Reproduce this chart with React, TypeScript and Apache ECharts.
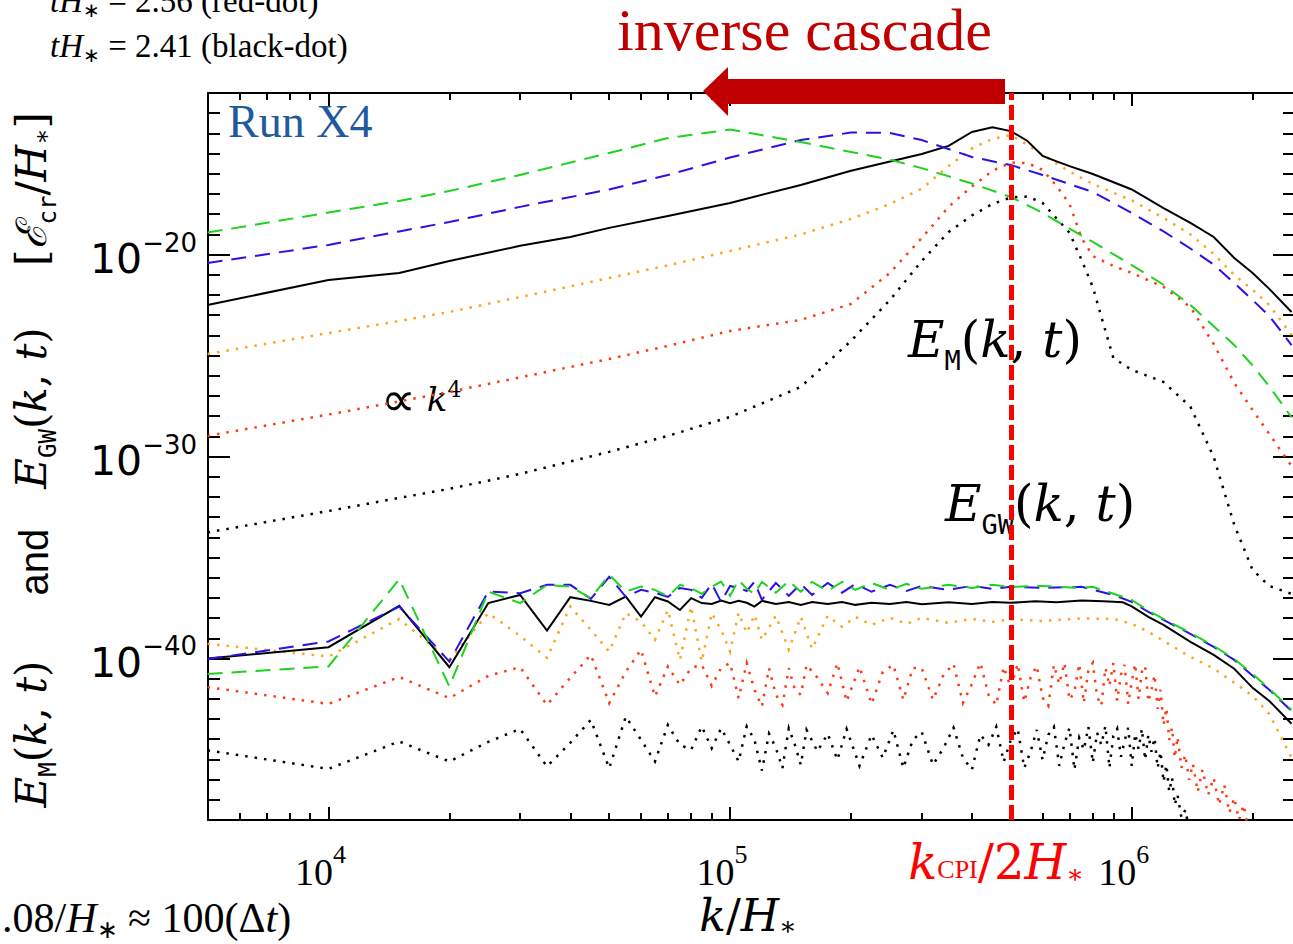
import React, { useEffect, useRef } from "react";
import * as echarts from "echarts";

// ---------------- axis extents & ticks ----------------
const kAxisRange = [5.012e3, 2.55e6];
const eAxisRange = [1e-48, 1e-12];
const xMajorTicks = [1e4, 1e5, 1e6];
const xMinorTicks = [6e3, 7e3, 8e3, 9e3, 2e4, 3e4, 4e4, 5e4, 6e4, 7e4, 8e4, 9e4, 2e5, 3e5, 4e5, 5e5, 6e5, 7e5, 8e5, 9e5, 2e6];
const yMajorTicks = [1e-40, 1e-30, 1e-20];
const yMinorTicks = [
  1e-47, 1e-46, 1e-45, 1e-44, 1e-43, 1e-42, 1e-41,
  1e-39, 1e-38, 1e-37, 1e-36, 1e-35, 1e-34, 1e-33, 1e-32, 1e-31,
  1e-29, 1e-28, 1e-27, 1e-26, 1e-25, 1e-24, 1e-23, 1e-22, 1e-21,
  1e-19, 1e-18, 1e-17, 1e-16, 1e-15, 1e-14, 1e-13,
];
const kCpiHalf = 5.0e5;

// ---------------- E_M(k,t) spectra (upper group) ----------------
const emBlackSolid = [
  [5e3, 3.2e-23], [1e4, 5.5e-22], [1.5e4, 1.23e-21], [2e4, 4.8e-21], [3e4, 2.7e-20], [4e4, 7.4e-20],
  [5e4, 2.1e-19], [7e4, 8.1e-19], [1e5, 3.6e-18], [1.5e5, 2.8e-17], [2e5, 1.4e-16], [3e5, 9.6e-16],
  [3.5e5, 2.4e-15], [4e5, 1.17e-14], [4.5e5, 2.0e-14], [5e5, 1.3e-14], [5.5e5, 4.2e-15], [6e5, 7.6e-16],
  [6.5e5, 4.1e-16], [7e5, 2.4e-16], [8e5, 9.8e-17], [1e6, 1.67e-17], [1.2e6, 2.0e-18], [1.4e6, 3.7e-19],
  [1.6e6, 7.4e-20], [1.8e6, 6.8e-21], [2e6, 1.23e-21], [2.2e6, 2.0e-22], [2.5e6, 1.44e-23],
];
const emGreen = [
  [5e3, 1.23e-19], [1e4, 1.2e-18], [1.5e4, 4.5e-18], [2e4, 1.4e-17], [3e4, 8.7e-17], [5e4, 1.07e-15],
  [7e4, 5.9e-15], [1e5, 1.56e-14], [1.5e5, 3.7e-15], [2e5, 1.2e-15], [2.5e5, 5.0e-16], [3e5, 1.9e-16],
  [4e5, 3.3e-17], [5e5, 7.1e-18], [6e5, 1.15e-18], [8e5, 4.2e-20], [1e6, 3.0e-21], [1.2e6, 3.2e-22],
  [1.4e6, 3.2e-23], [1.6e6, 2.8e-24], [1.8e6, 3.3e-25], [2e6, 3.2e-26], [2.2e6, 3.0e-27], [2.5e6, 8.7e-29],
];
const emBlue = [
  [5e3, 3.8e-21], [1e4, 3.0e-20], [1.5e4, 1.4e-19], [2e4, 4.1e-19], [3e4, 2.3e-18], [5e4, 1.67e-17],
  [7e4, 8.7e-17], [1e5, 6.4e-16], [1.5e5, 4.7e-15], [2e5, 1.1e-14], [2.5e5, 1.05e-14], [3e5, 4.7e-15],
  [4e5, 6.8e-16], [5e5, 2.7e-16], [6e5, 8.7e-17], [8e5, 1.26e-17], [1e6, 1.15e-18], [1.2e6, 1.4e-19],
  [1.4e6, 2.0e-20], [1.6e6, 3.2e-21], [1.8e6, 3.9e-22], [2e6, 5.6e-23], [2.2e6, 9.1e-24], [2.5e6, 3.3e-25],
];
const emOrange = [
  [5e3, 1.2e-25], [1e4, 1.3e-24], [1.5e4, 5.1e-24], [2e4, 1.44e-23], [3e4, 7.9e-23], [5e4, 6.9e-22],
  [7e4, 2.9e-21], [1e5, 1.5e-20], [1.5e5, 1.0e-19], [2e5, 5.8e-19], [2.5e5, 3.2e-18], [3e5, 1.8e-17],
  [3.5e5, 2.4e-16], [4e5, 1.8e-15], [4.5e5, 5.3e-15], [5e5, 8.3e-15], [5.5e5, 2.7e-15], [6e5, 8.5e-16],
  [7e5, 1.3e-16], [8e5, 3.1e-17], [1e6, 4.8e-18], [1.2e6, 6.5e-19], [1.4e6, 1.0e-19], [1.6e6, 1.07e-20],
  [1.8e6, 9.8e-22], [2e6, 1.8e-22], [2.2e6, 3.2e-23], [2.5e6, 1.05e-24],
];
const emRed = [
  [5e3, 1.05e-29], [1e4, 1.2e-28], [1.5e4, 5.3e-28], [2e4, 1.58e-27], [3e4, 8.3e-27], [5e4, 6.8e-26],
  [7e4, 3.0e-25], [1e5, 1.65e-24], [1.5e5, 5.8e-24], [2e5, 3.6e-23], [2.5e5, 1.23e-21], [3e5, 6.6e-20],
  [3.5e5, 2.3e-18], [4e5, 2.35e-17], [4.5e5, 1.4e-16], [5e5, 3.6e-16], [5.5e5, 3.4e-16], [6e5, 1.54e-16],
  [6.5e5, 2.5e-17], [7e5, 3.2e-18], [7.5e5, 6.6e-20], [8e5, 8.5e-21], [9e5, 2.7e-21], [1e6, 1.23e-21],
  [1.2e6, 2.5e-22], [1.4e6, 2.5e-23], [1.6e6, 3.7e-25], [1.8e6, 4.4e-27], [2e6, 2.0e-28], [2.2e6, 1.3e-29],
  [2.5e6, 3.4e-31],
];
const emBlackDot = [
  [5e3, 1.74e-34], [1e4, 2.0e-33], [1.5e4, 8.9e-33], [2e4, 2.5e-32], [3e4, 1.38e-31], [5e4, 1.7e-30],
  [7e4, 1.05e-29], [1e5, 9.1e-29], [1.5e5, 2.8e-27], [2e5, 5.3e-25], [2.5e5, 5.6e-23], [3e5, 4.8e-21],
  [3.5e5, 1.3e-19], [4e5, 8.6e-19], [4.5e5, 3.2e-18], [5e5, 6.7e-18], [5.5e5, 7.5e-18], [6e5, 3.6e-18],
  [7e5, 1.2e-19], [7.5e5, 5.4e-21], [8e5, 2.5e-22], [8.5e5, 3.7e-24], [9e5, 7.6e-26], [1e6, 1.95e-26],
  [1.2e6, 4.9e-27], [1.4e6, 2.9e-28], [1.6e6, 9.5e-31], [1.8e6, 4.1e-34], [2e6, 2.4e-36], [2.2e6, 3.9e-37],
  [2.5e6, 1.58e-37],
];

// ---------------- E_GW(k,t) spectra (lower group) ----------------
const gwBlackSolid = [
  [5e3, 1.0e-40], [1e4, 3.6e-40], [1.5e4, 4.0e-38], [2e4, 3.7e-41], [2.5e4, 5.5e-38], [3e4, 1.4e-37],
  [3.5e4, 2.4e-39], [4e4, 1.08e-37], [4.5e4, 7.1e-38], [5e4, 4.5e-38], [5.5e4, 1.16e-37], [6e4, 1.19e-38],
  [6.5e4, 1.08e-37], [7e4, 6.6e-38], [7.5e4, 2.5e-38], [8e4, 9.7e-38], [8.5e4, 5.5e-38], [9e4, 5.0e-38],
  [9.5e4, 7.3e-38], [1e5, 5.5e-38], [1.05e5, 7.1e-38], [1.1e5, 5.7e-38], [1.15e5, 3.7e-38], [1.2e5, 7.1e-38],
  [1.3e5, 5.0e-38], [1.4e5, 6.3e-38], [1.5e5, 4.5e-38], [1.6e5, 6.3e-38], [1.75e5, 5.0e-38], [1.9e5, 6.3e-38],
  [2.05e5, 4.5e-38], [2.25e5, 5.7e-38], [2.5e5, 5.0e-38], [2.75e5, 6.3e-38], [3e5, 4.8e-38], [3.5e5, 6.0e-38],
  [4e5, 5.0e-38], [4.5e5, 6.3e-38], [5e5, 5.7e-38], [5.75e5, 6.7e-38], [6.5e5, 6.0e-38], [7.5e5, 7.5e-38],
  [8.5e5, 6.7e-38], [9.5e5, 6.0e-38], [1e6, 3.8e-38], [1.1e6, 1.15e-38], [1.2e6, 4.6e-39], [1.4e6, 6.6e-40],
  [1.6e6, 1.5e-40], [1.8e6, 3.1e-41], [2e6, 3.5e-42], [2.2e6, 7.9e-43], [2.5e6, 5.8e-44],
];
const gwBlue = [
  [5e3, 9.3e-41], [1e4, 6.9e-40], [1.5e4, 3.7e-38], [2e4, 7.0e-41], [2.5e4, 2.05e-37], [3e4, 1.7e-37],
  [3.5e4, 4.4e-37], [4e4, 4.4e-37], [4.5e4, 8.9e-38], [5e4, 1.1e-36], [5.5e4, 1.12e-37], [6e4, 2.5e-37],
  [6.5e4, 1.8e-37], [7e4, 1.12e-37], [7.5e4, 3.1e-37], [8e4, 2.5e-37], [8.5e4, 1.0e-37], [9e4, 4.9e-37],
  [9.5e4, 6.3e-38], [1e5, 3.9e-37], [1.05e5, 3.1e-37], [1.1e5, 2.2e-37], [1.15e5, 6.2e-37], [1.2e5, 8.0e-38],
  [1.3e5, 5.5e-37], [1.4e5, 1.26e-37], [1.5e5, 4.9e-37], [1.6e5, 1.4e-37], [1.75e5, 5.5e-37], [1.9e5, 1.8e-37],
  [2.05e5, 4.9e-37], [2.25e5, 2.0e-37], [2.5e5, 4.4e-37], [2.75e5, 2.2e-37], [3e5, 3.9e-37], [3.5e5, 2.5e-37],
  [4e5, 3.9e-37], [4.5e5, 2.8e-37], [5e5, 3.5e-37], [6e5, 3.1e-37], [7.5e5, 3.5e-37], [8e5, 2.5e-37],
  [9e5, 1.4e-37], [1e6, 6.3e-38], [1.1e6, 2.0e-38], [1.2e6, 8.1e-39], [1.4e6, 1.65e-39], [1.6e6, 3.7e-40],
  [1.8e6, 8.5e-41], [2e6, 1.38e-41], [2.2e6, 2.8e-42], [2.5e6, 2.5e-43],
];
const gwGreen = [
  [5e3, 1.7e-41], [1e4, 4.0e-41], [1.5e4, 8.4e-37], [2e4, 4.1e-42], [2.5e4, 2.05e-37], [3e4, 5.5e-38],
  [3.5e4, 4.4e-37], [4e4, 3.6e-37], [4.5e4, 9.7e-38], [5e4, 1.4e-36], [5.5e4, 2.05e-37], [6e4, 3.6e-37],
  [6.5e4, 2.5e-37], [7e4, 1.16e-37], [7.5e4, 4.4e-37], [8e4, 3.0e-37], [8.5e4, 1.58e-37], [9e4, 3.6e-37],
  [9.5e4, 6.4e-37], [1e5, 1.26e-37], [1.05e5, 7.8e-37], [1.1e5, 2.8e-37], [1.15e5, 1.58e-37], [1.2e5, 6.2e-37],
  [1.3e5, 1.8e-37], [1.4e5, 6.9e-37], [1.5e5, 2.0e-37], [1.6e5, 6.2e-37], [1.75e5, 2.2e-37], [1.9e5, 6.2e-37],
  [2.05e5, 2.5e-37], [2.25e5, 5.5e-37], [2.5e5, 2.5e-37], [2.75e5, 4.9e-37], [3e5, 2.8e-37], [3.5e5, 4.4e-37],
  [4e5, 3.1e-37], [4.5e5, 4.4e-37], [5e5, 3.5e-37], [6e5, 3.9e-37], [7.5e5, 3.1e-37], [8e5, 3.5e-37],
  [9e5, 1.6e-37], [1e6, 8.0e-38], [1.1e6, 2.3e-38], [1.2e6, 9.1e-39], [1.4e6, 1.85e-39], [1.6e6, 4.2e-40],
  [1.8e6, 9.5e-41], [2e6, 1.7e-41], [2.2e6, 3.1e-42], [2.5e6, 2.9e-43],
];
const gwOrange = [
  [5e3, 5.3e-40], [1e4, 1.24e-40], [1.5e4, 8.9e-39], [2e4, 8.5e-41], [2.5e4, 1.75e-38], [3e4, 1.3e-39],
  [3.5e4, 1.07e-40], [4e4, 3.7e-38], [4.5e4, 2.6e-39], [5e4, 2.2e-40], [5.5e4, 1.75e-38], [6e4, 6.5e-39],
  [6.5e4, 8.3e-40], [7e4, 2.5e-38], [7.5e4, 8.5e-41], [8e4, 3.7e-38], [8.5e4, 7.0e-41], [9e4, 1.75e-38],
  [9.5e4, 2.6e-39], [1e5, 2.2e-40], [1.05e5, 1.8e-38], [1.1e5, 1.85e-39], [1.15e5, 1.44e-38], [1.2e5, 8.3e-40],
  [1.3e5, 1.3e-38], [1.4e5, 2.7e-40], [1.5e5, 1.15e-38], [1.6e5, 3.0e-40], [1.75e5, 1.3e-38], [1.9e5, 3.7e-39],
  [2.05e5, 1.15e-38], [2.25e5, 4.6e-39], [2.5e5, 1.02e-38], [2.75e5, 5.2e-39], [3e5, 1.02e-38], [3.5e5, 5.8e-39],
  [4e5, 9.1e-39], [4.5e5, 6.5e-39], [5e5, 8.7e-39], [6e5, 7.2e-39], [7.5e5, 9.6e-39], [9e5, 9.1e-39],
  [1e6, 5.2e-39], [1.1e6, 2.1e-39], [1.2e6, 7.4e-40], [1.4e6, 1.2e-40], [1.6e6, 3.2e-41], [1.8e6, 6.2e-42],
  [2e6, 1.4e-42], [2.2e6, 1.8e-43], [2.5e6, 1.2e-45],
];
const gwRed = [
  [5e3, 3.8e-42], [1e4, 5.6e-43], [1.5e4, 1.2e-41], [2e4, 1.08e-42], [2.5e4, 1.38e-41], [3e4, 3.7e-41],
  [3.5e4, 5.0e-43], [4e4, 1.1e-41], [4.5e4, 1.5e-40], [5e4, 6.1e-43], [5.5e4, 2.2e-41], [6e4, 2.7e-40],
  [6.5e4, 1.3e-42], [7e4, 4.0e-41], [7.5e4, 4.9e-42], [8e4, 3.4e-41], [8.5e4, 4.8e-41], [9e4, 4.4e-42],
  [9.5e4, 3.4e-41], [1e5, 5.9e-41], [1.05e5, 1.08e-42], [1.1e5, 5.9e-41], [1.15e5, 2.8e-42], [1.2e5, 4.2e-43],
  [1.25e5, 3.3e-41], [1.3e5, 1.58e-42], [1.35e5, 5.0e-43], [1.4e5, 3.3e-41], [1.45e5, 2.8e-42], [1.5e5, 1.58e-42],
  [1.55e5, 4.8e-41], [1.65e5, 1.1e-41], [1.75e5, 1.9e-42], [1.85e5, 5.9e-41], [1.95e5, 7.4e-43], [2.1e5, 3.8e-41],
  [2.25e5, 5.6e-43], [2.4e5, 2.2e-41], [2.55e5, 4.8e-41], [2.7e5, 8.9e-43], [2.85e5, 3.4e-41],
  [3.0e5, 3.4e-41], [3.2e5, 8.9e-43], [3.4e5, 1.54e-41], [3.6e5, 5.4e-41], [3.8e5, 6.3e-43], [4.0e5, 5.5e-42],
  [4.2e5, 6.05e-41], [4.4e5, 1.58e-42], [4.6e5, 5.0e-43], [4.8e5, 3.8e-41], [5.0e5, 3.5e-42], [5.2e5, 5.4e-41],
  [5.4e5, 7.1e-43], [5.6e5, 1.1e-41], [5.8e5, 4.3e-41], [6.0e5, 1.12e-42], [6.2e5, 4.5e-43], [6.4e5, 4.8e-41],
  [6.6e5, 5.5e-42], [6.8e5, 6.05e-41], [7.0e5, 8.9e-43], [7.2e5, 2.2e-42], [7.4e5, 5.4e-41], [7.6e5, 6.3e-43],
  [7.8e5, 2.7e-41], [8.0e5, 6.05e-41], [8.2e5, 1.26e-42], [8.4e5, 4.5e-43], [8.6e5, 3.4e-41], [8.8e5, 4.4e-42],
  [9.0e5, 6.05e-41], [9.2e5, 8.0e-43], [9.4e5, 1.54e-41], [9.6e5, 4.8e-41], [9.8e5, 5.6e-43], [1.0e6, 6.9e-42],
  [1.02e6, 5.4e-41], [1.04e6, 1.0e-42], [1.06e6, 2.2e-41], [1.08e6, 4.3e-41], [1.1e6, 7.1e-43], [1.12e6, 2.8e-42],
  [1.14e6, 1.54e-41], [1.16e6, 3.2e-43], [1.18e6, 2.8e-42], [1.2e6, 5.1e-44], [1.22e6, 3.5e-43], [1.24e6, 9.3e-45],
  [1.26e6, 3.7e-44], [1.28e6, 1.2e-45], [1.3e6, 1.3e-44], [1.33e6, 3.8e-46], [1.36e6, 1.7e-45], [1.39e6, 9.8e-47],
  [1.42e6, 6.1e-46], [1.46e6, 2.5e-47], [1.5e6, 3.1e-46], [1.55e6, 1.78e-47], [1.6e6, 1.23e-46], [1.65e6, 5.6e-48],
  [1.7e6, 5.5e-47], [1.75e6, 2.3e-48], [1.8e6, 1.26e-47], [1.85e6, 1.02e-48], [1.9e6, 5.6e-48], [1.95e6, 3.3e-49],
];
const gwBlackDot = [
  [5e3, 2.8e-45], [1e4, 3.4e-46], [1.5e4, 7.7e-45], [2e4, 7.9e-46], [2.5e4, 7.4e-45], [3e4, 3.2e-44],
  [3.5e4, 4.5e-46], [4e4, 6.6e-45], [4.5e4, 9.1e-44], [5e4, 3.7e-46], [5.5e4, 1.32e-43], [6e4, 9.3e-45],
  [6.5e4, 7.9e-46], [7e4, 5.1e-44], [7.5e4, 5.3e-45], [8e4, 3.0e-45], [8.5e4, 4.3e-44], [9e4, 3.6e-45],
  [9.5e4, 3.5e-44], [1e5, 5.3e-45], [1.05e5, 7.9e-46], [1.1e5, 4.3e-44], [1.15e5, 9.3e-45], [1.2e5, 2.8e-46],
  [1.25e5, 1.87e-44], [1.3e5, 3.7e-45], [1.35e5, 3.7e-46], [1.4e5, 3.5e-44], [1.45e5, 5.3e-45], [1.5e5, 5.4e-46],
  [1.55e5, 2.9e-44], [1.65e5, 2.5e-45], [1.75e5, 1.87e-44], [1.85e5, 9.5e-46], [1.95e5, 3.2e-44], [2.1e5, 4.8e-46],
  [2.25e5, 1.65e-44], [2.4e5, 1.2e-45], [2.55e5, 2.8e-44], [2.7e5, 3.8e-46], [2.85e5, 9.3e-45],
  [3.0e5, 2.3e-44], [3.2e5, 5.4e-46], [3.4e5, 3.7e-45], [3.6e5, 3.7e-44], [3.8e5, 1.2e-45], [4.0e5, 3.1e-46],
  [4.2e5, 1.65e-44], [4.4e5, 5.3e-45], [4.6e5, 4.1e-44], [4.8e5, 7.6e-46], [5.0e5, 9.3e-45], [5.2e5, 3.3e-44],
  [5.4e5, 3.8e-46], [5.6e5, 2.4e-45], [5.8e5, 2.9e-44], [6.0e5, 9.5e-46], [6.2e5, 1.65e-44], [6.4e5, 4.1e-44],
  [6.6e5, 4.8e-46], [6.8e5, 5.9e-45], [7.0e5, 3.7e-44], [7.2e5, 3.1e-46], [7.4e5, 1.17e-44], [7.6e5, 3.0e-45],
  [7.8e5, 4.1e-44], [8.0e5, 6.8e-46], [8.2e5, 2.1e-44], [8.4e5, 5.3e-45], [8.6e5, 4.6e-44], [8.8e5, 3.8e-46],
  [9.0e5, 1.47e-44], [9.2e5, 3.3e-44], [9.4e5, 1.35e-45], [9.6e5, 8.3e-45], [9.8e5, 3.7e-44], [1.0e6, 4.8e-46],
  [1.02e6, 1.85e-44], [1.04e6, 3.3e-45], [1.06e6, 3.3e-44], [1.08e6, 9.5e-46], [1.1e6, 1.65e-44], [1.12e6, 2.4e-45],
  [1.14e6, 1.17e-44], [1.16e6, 3.8e-46], [1.18e6, 2.4e-45], [1.2e6, 7.8e-47], [1.22e6, 5.4e-46], [1.24e6, 2.5e-47],
  [1.26e6, 1.23e-46], [1.28e6, 5.6e-48], [1.3e6, 1.78e-47], [1.33e6, 1.3e-48], [1.36e6, 3.2e-48], [1.39e6, 3.3e-49],
];

// ---------------- texts ----------------
const titleTopLine1 = "{i|tH}{s|∗}{r| = 2.56 (red-dot)}";
const titleTopLine2 = "{i|tH}{s|∗}{r| = 2.41 (black-dot)}";
const bottomLeftNote = "{r|.08/}{i|H}{s|∗}{r| ≈ 100(Δ}{i|t}{r|)}";
const cascadeText = "inverse cascade";
const runText = "Run X4";

// ---------------- helpers ----------------
const LOG = Math.log10;
const toXY = (pts: number[][]) => pts.map(([k, e]) => [LOG(k), LOG(e)]);

const SERIF = '"Liberation Serif", "Times New Roman", serif';
const MATH = '"DejaVu Serif", "Liberation Serif", serif';
const MONO = '"DejaVu Sans Mono", "Liberation Mono", monospace';
const SANS = '"DejaVu Sans", "Liberation Sans", sans-serif';

const DOT = [2.5, 7];
const DASH = [15, 9];

const C_GREEN = "#1ed21e";
const C_BLUE = "#2a12e6";
const C_ORANGE = "#ffa41e";
const C_RED = "#ff3a12";

function line(name: string, pts: number[][], color: string, width: number, type: any) {
  return {
    name,
    type: "line",
    data: toXY(pts),
    showSymbol: false,
    symbol: "none",
    clip: true,
    silent: true,
    lineStyle: { color, width, type, cap: "butt", join: "miter" },
    emphasis: { disabled: true },
  };
}

// shift a token down (d > 0) or up (d < 0) by |d| px via asymmetric padding
const shift = (d: number) => (d >= 0 ? [2 * d, 0, 0, 0] : [0, 0, -2 * d, 0]);

function mathRich(size: number, sub: number, color = "#000", mainFamily = MATH, lhFactor = 1.3) {
  const lh = Math.round(size * lhFactor);
  const base = { lineHeight: lh, verticalAlign: "middle", fill: color };
  return {
    i: { ...base, fontFamily: mainFamily, fontStyle: "italic", fontSize: size },
    r: { ...base, fontFamily: mainFamily, fontSize: size },
    q: { ...base, fontFamily: SANS, fontSize: Math.round(size * 1.45) },
    m: { ...base, fontFamily: MONO, fontSize: sub, padding: shift(Math.round(size * 0.4)) },
    c: { ...base, fontFamily: SERIF, fontSize: sub, padding: shift(Math.round(size * 0.14)) },
    s: { ...base, fontFamily: mainFamily, fontSize: sub, padding: shift(Math.round(size * 0.26)) },
    p: { ...base, fontFamily: mainFamily, fontSize: sub, padding: shift(-Math.round(size * 0.3)) },
  };
}

export default function App() {
  const ref = useRef<HTMLDivElement>(null);

  useEffect(() => {
    if (!ref.current) return;
    const chart = echarts.init(ref.current, undefined, { renderer: "svg" });
    const xr = kAxisRange.map(LOG);
    const yr = eAxisRange.map(LOG);
    const xMaj = xMajorTicks.map(LOG);
    const xMin = xMinorTicks.map(LOG);
    const yMaj = yMajorTicks.map(LOG);
    const yMin = yMinorTicks.map(LOG);
    const axisLine = { show: true, onZero: false, lineStyle: { color: "#000", width: 2 } };
    const tickStyle = { color: "#000", width: 2 };

    const xAxisBase = { type: "value", min: xr[0], max: xr[1], splitLine: { show: false } };
    const yAxisBase = { type: "value", min: yr[0], max: yr[1], splitLine: { show: false } };

    const xLabel = {
      show: true,
      customValues: xMaj,
      margin: 21,
      padding: [0, 16, 0, 0],
      formatter: (v: number) => `{b|10}{s|${Math.round(v)}}`,
      rich: {
        b: { fontFamily: SERIF, fontSize: 38, color: "#000", lineHeight: 50, verticalAlign: "bottom" },
        s: { fontFamily: SERIF, fontSize: 26, color: "#000", lineHeight: 18, verticalAlign: "top" },
      },
    };
    const yLabel = {
      show: true,
      customValues: yMaj,
      margin: 11,
      formatter: (v: number) => `{b|10}{s|−${Math.abs(Math.round(v))}}`,
      rich: {
        b: { fontFamily: SANS, fontSize: 41, color: "#000", lineHeight: 50, verticalAlign: "bottom" },
        s: { fontFamily: SANS, fontSize: 26, color: "#000", lineHeight: 20, verticalAlign: "top" },
      },
    };

    const series: any[] = [
      line("E_M black dotted", emBlackDot, "#000", 2.5, DOT),
      line("E_M red dotted", emRed, C_RED, 2.5, DOT),
      line("E_M orange dotted", emOrange, C_ORANGE, 2.5, DOT),
      line("E_M black solid", emBlackSolid, "#000", 2, "solid"),
      line("E_M blue dashed", emBlue, C_BLUE, 2, DASH),
      line("E_M green dashed", emGreen, C_GREEN, 2, DASH),
      line("E_GW black dotted", gwBlackDot, "#000", 2.5, DOT),
      line("E_GW red dotted", gwRed, C_RED, 2.5, DOT),
      line("E_GW orange dotted", gwOrange, C_ORANGE, 2.5, DOT),
      line("E_GW black solid", gwBlackSolid, "#000", 2, "solid"),
      line("E_GW blue dashed", gwBlue, C_BLUE, 2, DASH),
      line("E_GW green dashed", gwGreen, C_GREEN, 2, DASH),
    ];
    series[series.length - 1].markLine = {
      silent: true,
      symbol: "none",
      z: 5,
      label: { show: false },
      lineStyle: { color: "#ff0000", width: 5, type: [15, 5] },
      data: [{ xAxis: LOG(kCpiHalf) }],
    };

    const yTitleRich = mathRich(42, 24);
    const andRich = { a: { fontFamily: '"Liberation Sans", sans-serif', fontSize: 40, fill: "#000" } };
    const plotRich = mathRich(50, 27);
    const redRich = mathRich(48, 26, "#ff0000");
    const topRich = mathRich(33, 20, "#000", SERIF);
    const noteRich = mathRich(42, 25, "#000", SERIF, 1.0);
    const xTitleRich = mathRich(44, 26, "#000", MATH, 1.0);

    const option: any = {
      animation: false,
      grid: { left: 208, top: 93, width: 1087, height: 727, containLabel: false, outerBoundsMode: "none" },
      xAxis: [
        { ...xAxisBase, position: "bottom", axisLine, axisTick: { show: true, inside: true, length: 13, customValues: xMaj, lineStyle: tickStyle }, axisLabel: xLabel },
        { ...xAxisBase, position: "bottom", axisLine: { show: false }, axisTick: { show: true, inside: true, length: 7, customValues: xMin, lineStyle: tickStyle }, axisLabel: { show: false } },
        { ...xAxisBase, position: "top", axisLine, axisTick: { show: true, inside: true, length: 13, customValues: xMaj, lineStyle: tickStyle }, axisLabel: { show: false } },
        { ...xAxisBase, position: "top", axisLine: { show: false }, axisTick: { show: true, inside: true, length: 7, customValues: xMin, lineStyle: tickStyle }, axisLabel: { show: false } },
      ],
      yAxis: [
        { ...yAxisBase, position: "left", axisLine, axisTick: { show: true, inside: true, length: 22, customValues: yMaj, lineStyle: tickStyle }, axisLabel: yLabel },
        { ...yAxisBase, position: "left", axisLine: { show: false }, axisTick: { show: true, inside: true, length: 12, customValues: yMin, lineStyle: tickStyle }, axisLabel: { show: false } },
        { ...yAxisBase, position: "right", axisLine, axisTick: { show: true, inside: true, length: 22, customValues: yMaj, lineStyle: tickStyle }, axisLabel: { show: false } },
        { ...yAxisBase, position: "right", axisLine: { show: false }, axisTick: { show: true, inside: true, length: 12, customValues: yMin, lineStyle: tickStyle }, axisLabel: { show: false } },
      ],
      series,
      graphic: [
        {
          type: "polygon",
          z: 100,
          silent: true,
          shape: { points: [[703, 91], [728, 67], [728, 79], [1005, 79], [1005, 104], [728, 104], [728, 116]] },
          style: { fill: "#c00000" },
        },
        { type: "text", z: 100, x: 617, y: 30, silent: true, style: { text: cascadeText, fill: "#c00000", fontFamily: SERIF, fontSize: 60, lineHeight: 58, align: "left", verticalAlign: "middle" } },
        { type: "text", z: 1, x: 228, y: 121, silent: true, style: { text: runText, fill: "#1f5a9e", fontFamily: SERIF, fontSize: 46, align: "left", verticalAlign: "middle" } },
        { type: "text", z: 1, x: 50, y: 1, silent: true, style: { text: titleTopLine1, rich: topRich, align: "left", verticalAlign: "middle" } },
        { type: "text", z: 1, x: 50, y: 46, silent: true, style: { text: titleTopLine2, rich: topRich, align: "left", verticalAlign: "middle" } },
        { type: "text", z: 1, x: 2, y: 918, silent: true, style: { text: bottomLeftNote, rich: noteRich, align: "left", verticalAlign: "middle" } },
        { type: "text", z: 1, x: 748, y: 915, silent: true, style: { text: "{i|k}{r|/}{i|H}{s|∗}", rich: xTitleRich, align: "center", verticalAlign: "middle" } },
        { type: "text", z: 1, x: 1084, y: 862, silent: true, style: { text: "{i|k}{c|CPI}{r|/2}{i|H}{s|∗}", rich: redRich, align: "right", verticalAlign: "middle" } },
        { type: "text", z: 1, x: 908, y: 340, silent: true, style: { text: "{i|E}{m|M}{r|(}{i|k}{r|, }{i|t}{r|)}", rich: plotRich, align: "left", verticalAlign: "middle" } },
        { type: "text", z: 1, x: 945, y: 504, silent: true, style: { text: "{i|E}{m|GW}{r|(}{i|k}{r|, }{i|t}{r|)}", rich: plotRich, align: "left", verticalAlign: "middle" } },
        { type: "text", z: 1, x: 381, y: 399, silent: true, style: { text: "{q|∝}{r| }{i|k}{p|4}", rich: mathRich(34, 22), align: "left", verticalAlign: "middle" } },
        { type: "text", z: 1, x: 31, y: 734, rotation: Math.PI / 2, silent: true, style: { text: "{i|E}{m|M}{r|(}{i|k}{r|, }{i|t}{r|)}", rich: yTitleRich, align: "center", verticalAlign: "middle" } },
        { type: "text", z: 1, x: 34, y: 562, rotation: Math.PI / 2, silent: true, style: { text: "{a|and}", rich: andRich, align: "center", verticalAlign: "middle" } },
        { type: "text", z: 1, x: 31, y: 408, rotation: Math.PI / 2, silent: true, style: { text: "{i|E}{m|GW}{r|(}{i|k}{r|, }{i|t}{r|)}", rich: yTitleRich, align: "center", verticalAlign: "middle" } },
        { type: "text", z: 1, x: 31, y: 189, rotation: Math.PI / 2, silent: true, style: { text: "{r|[}{i|ℰ}{m|cr}{r|/}{i|H}{s|∗}{r|]}", rich: yTitleRich, align: "center", verticalAlign: "middle" } },
      ],
    };
    chart.setOption(option);
    return () => chart.dispose();
  }, []);

  return (
    <div
      ref={ref}
      style={{ position: "absolute", left: 0, top: 0, width: 1293, height: 944, background: "#fff" }}
    />
  );
}
